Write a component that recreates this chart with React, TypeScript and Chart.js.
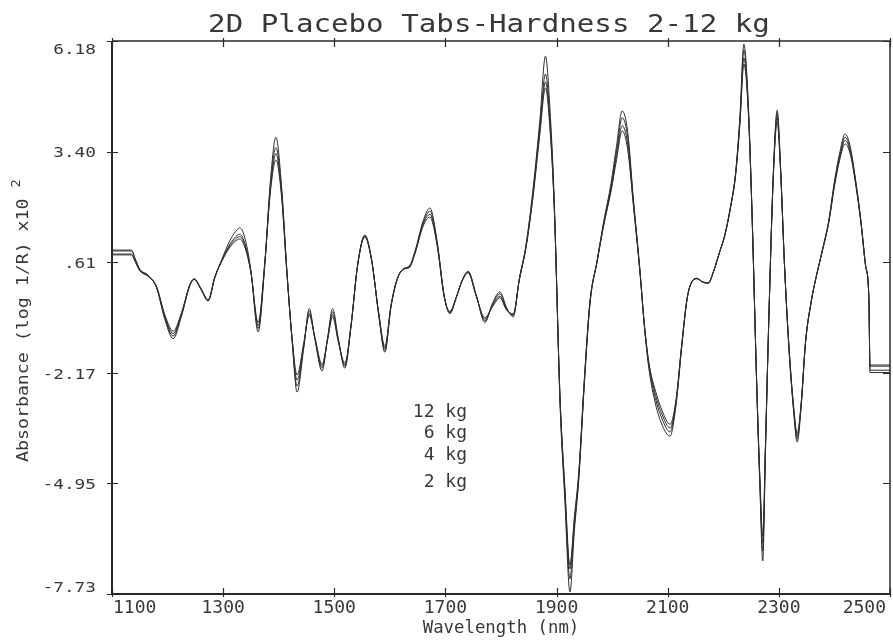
import React, { useEffect, useRef } from 'react';
import { Chart, registerables } from 'chart.js';

Chart.register(...registerables);

const TITLE = '2D Placebo Tabs-Hardness 2-12 kg';
const X_TITLE = 'Wavelength (nm)';
const Y_TITLE = 'Absorbance (log 1/R) x10';
const Y_TITLE_SUP = '2';

const X_TICKS = [1100, 1300, 1500, 1700, 1900, 2100, 2300, 2500];
const Y_TICKS = [6.18, 3.4, 0.61, -2.17, -4.95, -7.73];
const Y_TICK_LABELS = ['6.18', '3.40', '.61', '-2.17', '-4.95', '-7.73'];
const SERIES_LABELS = ['12 kg', '6 kg', '4 kg', '2 kg'];

const WAVELENGTH = [
  1100, 1135, 1142, 1150, 1165, 1180, 1195, 1210, 1225, 1240, 1248, 1260, 1273, 1285, 1298,
  1310, 1320, 1330, 1340, 1350, 1363, 1375, 1385, 1395, 1405, 1415, 1424, 1433, 1445, 1455,
  1465, 1478, 1488, 1497, 1507, 1519, 1530, 1542, 1555, 1567, 1580, 1591, 1602, 1613, 1625,
  1635, 1645, 1660, 1672, 1685, 1698, 1708, 1720, 1730, 1741, 1755, 1771, 1785, 1798, 1810,
  1822, 1833, 1845, 1858, 1870, 1880, 1888, 1896, 1906, 1915, 1924, 1932, 1940, 1950, 1960,
  1973, 1985, 1998, 2008, 2018, 2028, 2038, 2050, 2058, 2066, 2078, 2090, 2104, 2115, 2125, 2135,
  2145, 2153, 2163, 2173, 2183, 2193, 2203, 2213, 2222, 2230, 2237, 2245, 2252, 2260, 2266,
  2271, 2276, 2282, 2290, 2297, 2303, 2310, 2318, 2326, 2333, 2340, 2348, 2358, 2368, 2378,
  2390, 2400, 2410, 2419, 2428, 2438, 2448, 2456, 2462, 2464, 2500,
];

const ABS_12KG = [
  0.92, 0.92, 0.70, 0.44, 0.29, -0.02, -0.82, -1.31, -0.74, 0.02, 0.18, -0.07, -0.36, 0.22, 0.70,
  1.10, 1.34, 1.48, 1.18, 0.40, -1.14, 0.55, 2.65, 3.76, 2.55, 0.35, -1.35, -2.65, -1.55, -0.55,
  -1.32, -2.12, -1.28, -0.55, -1.28, -2.05, -1.02, 0.55, 1.30, 0.70, -0.72, -1.65, -0.52, 0.17, 0.46,
  0.52, 0.88, 1.66, 1.98, 1.15, -0.24, -0.68, -0.26, 0.16, 0.39, -0.19, -0.90, -0.40, -0.13, -0.52,
  -0.76, 0.20, 1.05, 2.50, 4.20, 5.80, 4.50, 2.10, -2.85, -5.40, -7.68, -6.15, -4.85, -2.45, -0.45,
  0.66, 1.65, 2.60, 3.55, 4.42, 3.90, 2.25, 0.42, -1.00, -2.05, -2.95, -3.48, -3.76, -2.98, -1.55, -0.30,
  0.15, 0.20, 0.11, 0.09, 0.40, 0.85, 1.32, 2.02, 2.85, 4.30, 6.10, 4.60, 1.75, -2.45, -5.10,
  -6.90, -4.10, -0.80, 2.85, 4.44, 3.05, 0.62, -1.55, -3.05, -3.91, -3.05, -1.42, -0.40, 0.30, 0.90,
  1.68, 2.65, 3.40, 3.84, 3.55, 2.70, 1.62, 0.55, -0.30, -1.97, -1.97,
];

const ABS_6KG = [
  0.90, 0.90, 0.68, 0.43, 0.28, -0.01, -0.78, -1.24, -0.71, 0.03, 0.19, -0.06, -0.35, 0.23, 0.68,
  1.02, 1.22, 1.32, 1.05, 0.38, -1.05, 0.58, 2.55, 3.50, 2.45, 0.32, -1.32, -2.50, -1.50, -0.62,
  -1.30, -2.05, -1.30, -0.63, -1.32, -2.00, -1.00, 0.55, 1.28, 0.69, -0.70, -1.60, -0.50, 0.18, 0.45,
  0.50, 0.86, 1.61, 1.90, 1.10, -0.25, -0.66, -0.25, 0.15, 0.37, -0.20, -0.86, -0.44, -0.18, -0.55,
  -0.73, 0.19, 1.02, 2.42, 4.05, 5.35, 4.25, 2.00, -2.78, -5.25, -7.35, -6.00, -4.78, -2.40, -0.42,
  0.65, 1.62, 2.52, 3.42, 4.25, 3.75, 2.18, 0.40, -0.98, -1.98, -2.82, -3.33, -3.65, -2.92, -1.52, -0.30,
  0.15, 0.20, 0.11, 0.09, 0.40, 0.85, 1.31, 2.00, 2.82, 4.22, 5.95, 4.52, 1.72, -2.40, -5.00,
  -6.65, -4.00, -0.80, 2.80, 4.35, 3.00, 0.60, -1.50, -3.00, -3.83, -3.00, -1.40, -0.40, 0.30, 0.90,
  1.66, 2.60, 3.33, 3.76, 3.48, 2.66, 1.60, 0.54, -0.30, -2.00, -2.00,
];

const ABS_4KG = [
  0.82, 0.82, 0.64, 0.41, 0.27, 0.00, -0.74, -1.18, -0.68, 0.04, 0.19, -0.05, -0.34, 0.24, 0.66,
  0.98, 1.17, 1.26, 1.00, 0.36, -0.98, 0.60, 2.45, 3.35, 2.35, 0.30, -1.30, -2.35, -1.46, -0.68,
  -1.28, -2.00, -1.32, -0.70, -1.35, -1.97, -0.99, 0.54, 1.26, 0.68, -0.68, -1.55, -0.48, 0.18, 0.45,
  0.49, 0.84, 1.57, 1.82, 1.07, -0.26, -0.64, -0.25, 0.15, 0.36, -0.21, -0.82, -0.47, -0.24, -0.57,
  -0.70, 0.18, 1.00, 2.36, 3.95, 5.15, 4.10, 1.95, -2.72, -5.15, -7.10, -5.90, -4.72, -2.36, -0.40,
  0.64, 1.58, 2.45, 3.30, 4.05, 3.58, 2.12, 0.38, -0.96, -1.93, -2.72, -3.22, -3.55, -2.88, -1.50, -0.29,
  0.16, 0.21, 0.12, 0.10, 0.41, 0.86, 1.30, 1.99, 2.80, 4.15, 5.75, 4.45, 1.70, -2.38, -4.92,
  -6.45, -3.95, -0.78, 2.78, 4.25, 2.96, 0.58, -1.48, -2.96, -3.75, -2.97, -1.39, -0.39, 0.30, 0.89,
  1.64, 2.56, 3.27, 3.68, 3.42, 2.62, 1.58, 0.53, -0.30, -2.10, -2.10,
];

const ABS_2KG = [
  0.80, 0.80, 0.62, 0.40, 0.26, 0.01, -0.70, -1.12, -0.66, 0.05, 0.20, -0.04, -0.33, 0.25, 0.65,
  0.95, 1.12, 1.20, 0.95, 0.35, -0.90, 0.62, 2.38, 3.19, 2.28, 0.28, -1.28, -2.22, -1.42, -0.72,
  -1.27, -1.95, -1.33, -0.76, -1.37, -1.92, -0.98, 0.53, 1.25, 0.67, -0.66, -1.50, -0.47, 0.19, 0.44,
  0.48, 0.82, 1.53, 1.75, 1.04, -0.27, -0.62, -0.24, 0.14, 0.35, -0.22, -0.78, -0.50, -0.28, -0.59,
  -0.68, 0.17, 0.98, 2.30, 3.85, 5.00, 4.00, 1.90, -2.68, -5.05, -7.00, -5.80, -4.65, -2.32, -0.38,
  0.63, 1.55, 2.40, 3.20, 3.92, 3.45, 2.08, 0.37, -0.95, -1.90, -2.62, -3.12, -3.46, -2.84, -1.48, -0.28,
  0.16, 0.21, 0.12, 0.10, 0.41, 0.86, 1.30, 1.98, 2.78, 4.10, 5.60, 4.40, 1.68, -2.35, -4.85,
  -6.27, -3.90, -0.76, 2.75, 4.14, 2.92, 0.56, -1.45, -2.92, -3.68, -2.95, -1.38, -0.38, 0.29, 0.88,
  1.62, 2.52, 3.22, 3.59, 3.36, 2.60, 1.56, 0.52, -0.30, -2.16, -2.16,
];

const SERIES = [ABS_12KG, ABS_6KG, ABS_4KG, ABS_2KG];

const MONO = '"DejaVu Sans Mono", "Liberation Mono", monospace';

function stretchedText(ctx: any, text: string, x: number, y: number, sx: number, align: CanvasTextAlign) {
  ctx.save();
  ctx.translate(x, y);
  ctx.scale(sx, 1);
  ctx.textAlign = align;
  ctx.fillText(text, 0, 0);
  ctx.restore();
}

const framePlugin = {
  id: 'plotterFrame',
  afterDraw(chart: any) {
    const { ctx, chartArea } = chart;
    const { left, right, top, bottom } = chartArea;
    const xs = chart.scales.x;
    const ys = chart.scales.y;
    ctx.save();
    ctx.strokeStyle = '#2a2a2a';
    // frame
    ctx.lineWidth = 1.5;
    ctx.beginPath();
    ctx.moveTo(left, top);
    ctx.lineTo(right, top);
    ctx.lineTo(right, bottom);
    ctx.stroke();
    ctx.lineWidth = 2;
    ctx.beginPath();
    ctx.moveTo(left, top);
    ctx.lineTo(left, bottom);
    ctx.lineTo(right, bottom);
    ctx.stroke();
    // ticks
    ctx.lineWidth = 1.2;
    ctx.beginPath();
    X_TICKS.forEach((v) => {
      const px = Math.round(xs.getPixelForValue(v)) + 0.5;
      ctx.moveTo(px, bottom - 6);
      ctx.lineTo(px, bottom + 3);
      ctx.moveTo(px, top - 3);
      ctx.lineTo(px, top + 6);
    });
    Y_TICKS.forEach((v) => {
      const py = Math.round(ys.getPixelForValue(v)) + 0.5;
      ctx.moveTo(left - 5, py);
      ctx.lineTo(left + 6, py);
      ctx.moveTo(right - 7, py);
      ctx.lineTo(right, py);
    });
    ctx.stroke();

    ctx.fillStyle = '#383838';
    // x tick labels
    ctx.font = '18px ' + MONO;
    ctx.textBaseline = 'alphabetic';
    X_TICKS.forEach((v, i) => {
      const px = xs.getPixelForValue(v);
      if (i === 0) {
        ctx.textAlign = 'left';
        ctx.fillText(String(v), px + 1, 613);
      } else if (i === X_TICKS.length - 1) {
        ctx.textAlign = 'right';
        ctx.fillText(String(v), px - 4, 613);
      } else {
        ctx.textAlign = 'center';
        ctx.fillText(String(v), px, 613);
      }
    });
    // y tick labels (wide plotter digits)
    ctx.font = '14px ' + MONO;
    ctx.textBaseline = 'middle';
    Y_TICKS.forEach((v, i) => {
      let py = ys.getPixelForValue(v) + 2;
      if (i === 0) py = top + 9;
      if (i === Y_TICKS.length - 1) py = bottom - 6;
      stretchedText(ctx, Y_TICK_LABELS[i], 96, py, 1.27, 'right');
    });

    // title
    ctx.font = '24px ' + MONO;
    ctx.textBaseline = 'alphabetic';
    stretchedText(ctx, TITLE, 489, 32, 1.215, 'center');

    // x title
    ctx.font = '17px ' + MONO;
    ctx.textAlign = 'center';
    stretchedText(ctx, X_TITLE, (left + right) / 2, 633, 1.02, 'center');

    // series labels
    ctx.font = '18px ' + MONO;
    ctx.textAlign = 'right';
    const labelY = [417, 438, 460, 487];
    SERIES_LABELS.forEach((s, i) => {
      ctx.fillText(s, 467, labelY[i]);
    });

    // y title (rotated)
    ctx.save();
    ctx.translate(28, 462);
    ctx.rotate(-Math.PI / 2);
    ctx.scale(1.14, 1);
    ctx.font = '16px ' + MONO;
    ctx.textAlign = 'left';
    ctx.textBaseline = 'alphabetic';
    ctx.fillText(Y_TITLE, 0, 0);
    const w = ctx.measureText(Y_TITLE + ' ').width;
    ctx.font = '12px ' + MONO;
    ctx.fillText(Y_TITLE_SUP, w, -8);
    ctx.restore();

    ctx.restore();
  },
};

export default function App() {
  const canvasRef = useRef<HTMLCanvasElement | null>(null);

  useEffect(() => {
    document.body.style.margin = '0';
    const canvas = canvasRef.current;
    if (!canvas) return;
    const chart = new Chart(canvas, {
      type: 'line',
      data: {
        labels: WAVELENGTH,
        datasets: SERIES.map((vals, i) => ({
          label: SERIES_LABELS[i],
          data: WAVELENGTH.map((x, j) => ({ x, y: vals[j] })),
          borderColor: '#2e2e2e',
          borderWidth: 1,
          pointRadius: 0,
          fill: false,
          cubicInterpolationMode: 'monotone' as const,
        })),
      },
      options: {
        responsive: false,
        animation: false,
        layout: { padding: { left: 112, right: 3, top: 41, bottom: 47 } },
        plugins: {
          legend: { display: false },
          title: { display: false },
          tooltip: { enabled: false },
        },
        scales: {
          x: { type: 'linear', min: 1100, max: 2500, display: false },
          y: { type: 'linear', min: -7.73, max: 6.18, display: false },
        },
      },
      plugins: [framePlugin],
    });
    return () => chart.destroy();
  }, []);

  return (
    <div style={{ width: 893, height: 641, background: '#fff' }}>
      <canvas ref={canvasRef} width={893} height={641} />
    </div>
  );
}
